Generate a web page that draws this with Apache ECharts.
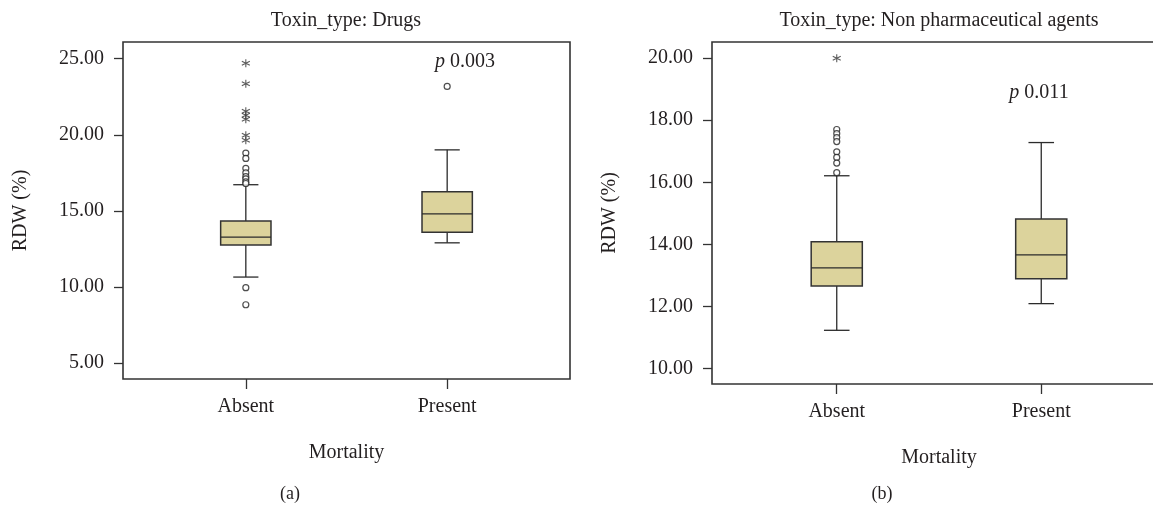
<!DOCTYPE html>
<html>
<head>
<meta charset="utf-8">
<script src="https://cdn.jsdelivr.net/npm/echarts@6/dist/echarts.min.js"></script>
<style>
  html, body { margin: 0; padding: 0; background: #fff; }
  #chart { width: 1153px; height: 508px; }
</style>
</head>
<body>
<div id="chart"></div>
<script>
const categories = ['Absent', 'Present']
const yTicksDrugs = [5, 10, 15, 20, 25]
const yTicksNonPharm = [10, 12, 14, 16, 18, 20]

// box stats: [lower whisker, Q1, median, Q3, upper whisker]
const drugsAbsentBox = [10.65, 12.75, 13.27, 14.34, 16.72]
const drugsPresentBox = [12.9, 13.6, 14.8, 16.26, 19.01]
const nonPharmAbsentBox = [11.23, 12.66, 13.24, 14.08, 16.21]
const nonPharmPresentBox = [12.09, 12.89, 13.66, 14.82, 17.28]

// outliers (circles) and extremes (asterisks)
const drugsAbsentCircles = [18.8, 18.45, 17.8, 17.5, 17.25, 17.1, 16.9, 16.8, 9.95, 8.83]
const drugsAbsentStars = [24.7, 23.36, 21.55, 21.28, 21.02, 19.97, 19.65]
const drugsPresentCircles = [23.18]
const nonPharmAbsentCircles = [17.7, 17.57, 17.44, 17.31, 16.98, 16.8, 16.62, 16.31]
const nonPharmAbsentStars = [20.0]

const pDrugs = '0.003'
const pNonPharm = '0.011'

const FONT = '"Liberation Serif", "DejaVu Serif", serif'
const FS = 20
const INK = '#231f20'
const BOX_FILL = '#dcd39c'

const chart = echarts.init(document.getElementById('chart'))

function renderBox(params, api) {
  const x = api.value(0)
  const lo = api.coord([x, api.value(1)])
  const q1 = api.coord([x, api.value(2)])
  const med = api.coord([x, api.value(3)])
  const q3 = api.coord([x, api.value(4)])
  const hi = api.coord([x, api.value(5)])
  const bw = api.size([0.25, 0])[0]
  const cx = lo[0]
  const line = (x1, y1, x2, y2) => ({
    type: 'line',
    shape: { x1, y1, x2, y2 },
    style: { stroke: '#2b2b2b', lineWidth: 1.3 }
  })
  return {
    type: 'group',
    children: [
      line(cx, hi[1], cx, q3[1]),
      line(cx, q1[1], cx, lo[1]),
      line(cx - bw / 4, hi[1], cx + bw / 4, hi[1]),
      line(cx - bw / 4, lo[1], cx + bw / 4, lo[1]),
      {
        type: 'rect',
        shape: { x: cx - bw / 2, y: q3[1], width: bw, height: q1[1] - q3[1] },
        style: { fill: BOX_FILL, stroke: '#333', lineWidth: 1.5 }
      },
      line(cx - bw / 2, med[1], cx + bw / 2, med[1])
    ]
  }
}

const pts = (idx, vals) => vals.map(v => [idx, v])

function xAxisFor(gridIndex) {
  return {
    type: 'value',
    gridIndex: gridIndex,
    min: 0.39,
    max: 2.61,
    name: 'Mortality',
    nameLocation: 'middle',
    nameGap: 64,
    nameTextStyle: { fontFamily: FONT, fontSize: FS, color: INK },
    splitLine: { show: false },
    axisLine: { show: false },
    axisTick: { customValues: [1, 2], length: 10, lineStyle: { color: '#333', width: 1.3 } },
    axisLabel: {
      customValues: [1, 2],
      margin: 18,
      fontFamily: FONT,
      fontSize: FS,
      color: INK,
      formatter: v => categories[Math.round(v) - 1]
    }
  }
}

function yAxisFor(gridIndex, min, max, ticks) {
  return {
    type: 'value',
    gridIndex: gridIndex,
    min: min,
    max: max,
    name: 'RDW (%)',
    nameLocation: 'middle',
    nameGap: 92,
    nameTextStyle: { fontFamily: FONT, fontSize: FS, color: INK },
    splitLine: { show: false },
    axisLine: { show: false },
    axisTick: { customValues: ticks, length: 9, lineStyle: { color: '#333', width: 1.3 } },
    axisLabel: {
      customValues: ticks,
      margin: 19,
      fontFamily: FONT,
      fontSize: FS,
      color: INK,
      formatter: v => v.toFixed(2)
    }
  }
}

const circleStyle = { color: '#fff', borderColor: '#222', borderWidth: 1.2 }
const starStyle = { color: 'transparent', borderColor: '#333', borderWidth: 1.1 }
const STAR = 'path://M5,0L5,10M0.7,2.5L9.3,7.5M0.7,7.5L9.3,2.5'

chart.setOption({
  backgroundColor: '#fff',
  animation: false,
  grid: [
    { left: 123, top: 42, width: 447, height: 337, outerBoundsMode: 'none', show: true, borderColor: '#333', borderWidth: 1.6, backgroundColor: 'transparent' },
    { left: 712, top: 42, width: 454, height: 342, outerBoundsMode: 'none', show: true, borderColor: '#333', borderWidth: 1.6, backgroundColor: 'transparent' }
  ],
  xAxis: [xAxisFor(0), xAxisFor(1)],
  yAxis: [
    yAxisFor(0, 3.95, 26.1, yTicksDrugs),
    yAxisFor(1, 9.5, 20.52, yTicksNonPharm)
  ],
  graphic: [
    { type: 'text', x: 346, y: 21, style: { text: 'Toxin_type: Drugs', align: 'center', verticalAlign: 'middle', fontFamily: FONT, fontSize: FS, fill: INK } },
    { type: 'text', x: 939, y: 21, style: { text: 'Toxin_type: Non pharmaceutical agents', align: 'center', verticalAlign: 'middle', fontFamily: FONT, fontSize: FS, fill: INK } },
    {
      type: 'text', x: 465, y: 62,
      style: {
        text: '{i|p} ' + pDrugs, align: 'center', verticalAlign: 'middle',
        fontFamily: FONT, fontSize: FS, fill: INK,
        rich: { i: { fontStyle: 'italic', fontFamily: FONT, fontSize: FS, fill: INK } }
      }
    },
    {
      type: 'text', x: 1039, y: 93,
      style: {
        text: '{i|p} ' + pNonPharm, align: 'center', verticalAlign: 'middle',
        fontFamily: FONT, fontSize: FS, fill: INK,
        rich: { i: { fontStyle: 'italic', fontFamily: FONT, fontSize: FS, fill: INK } }
      }
    },
    { type: 'text', x: 290, y: 494, style: { text: '(a)', align: 'center', verticalAlign: 'middle', fontFamily: FONT, fontSize: 18, fill: INK } },
    { type: 'text', x: 882, y: 494, style: { text: '(b)', align: 'center', verticalAlign: 'middle', fontFamily: FONT, fontSize: 18, fill: INK } }
  ],
  series: [
    {
      type: 'custom',
      xAxisIndex: 0,
      yAxisIndex: 0,
      renderItem: renderBox,
      encode: { x: 0, y: [1, 2, 3, 4, 5] },
      data: [[1, ...drugsAbsentBox], [2, ...drugsPresentBox]],
      z: 2
    },
    {
      type: 'custom',
      xAxisIndex: 1,
      yAxisIndex: 1,
      renderItem: renderBox,
      encode: { x: 0, y: [1, 2, 3, 4, 5] },
      data: [[1, ...nonPharmAbsentBox], [2, ...nonPharmPresentBox]],
      z: 2
    },
    {
      type: 'scatter',
      xAxisIndex: 0,
      yAxisIndex: 0,
      symbol: 'circle',
      symbolSize: 6,
      itemStyle: circleStyle,
      data: pts(1, drugsAbsentCircles).concat(pts(2, drugsPresentCircles)),
      z: 3
    },
    {
      type: 'scatter',
      xAxisIndex: 0,
      yAxisIndex: 0,
      symbol: STAR,
      symbolSize: 8,
      itemStyle: starStyle,
      data: pts(1, drugsAbsentStars),
      z: 3
    },
    {
      type: 'scatter',
      xAxisIndex: 1,
      yAxisIndex: 1,
      symbol: 'circle',
      symbolSize: 6,
      itemStyle: circleStyle,
      data: pts(1, nonPharmAbsentCircles),
      z: 3
    },
    {
      type: 'scatter',
      xAxisIndex: 1,
      yAxisIndex: 1,
      symbol: STAR,
      symbolSize: 8,
      itemStyle: starStyle,
      data: pts(1, nonPharmAbsentStars),
      z: 3
    }
  ]
})
</script>
</body>
</html>
